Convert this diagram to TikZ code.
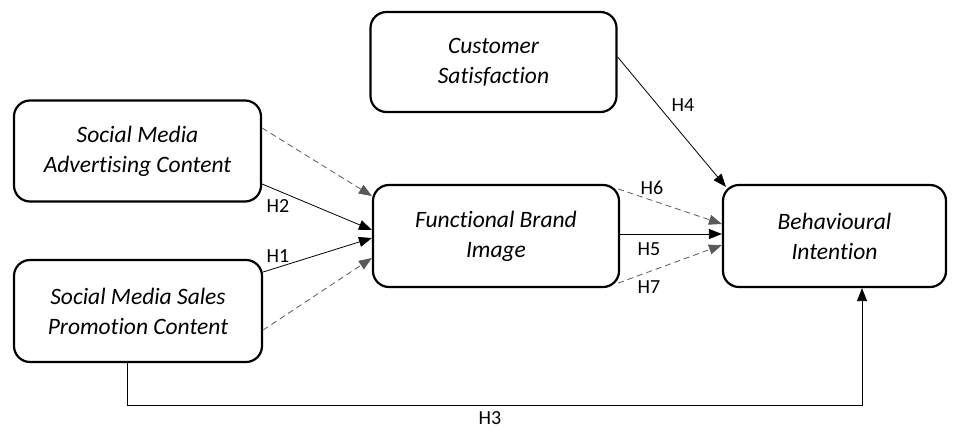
\documentclass[tikz,border=0pt]{standalone}
\usepackage{fontspec}
\setmainfont[Ligatures=NoCommon]{Carlito}
\usetikzlibrary{arrows.meta,calc}
\begin{document}
\begin{tikzpicture}[x=1pt,y=-1pt,
  box/.style={draw, line width=2.2pt, rounded corners=16pt, align=center, inner sep=0pt,
    font=\fontsize{23.5}{30}\selectfont\itshape},
  arr/.style={draw, line width=0.8pt, -{Triangle[length=13pt,width=10pt]}},
  darr/.style={arr, dash pattern=on 6pt off 4pt, draw=black!65},
  lbl/.style={font=\fontsize{20}{22}\selectfont, inner sep=0pt}]
\useasboundingbox (0,0) rectangle (958,429);
\node[box, minimum width=247pt, minimum height=101pt] (ad) at (137.5,151) {Social Media\\Advertising Content};
\node[box, minimum width=248pt, minimum height=102pt] (sp) at (138,311) {Social Media Sales\\Promotion Content};
\node[box, minimum width=246pt, minimum height=100pt] (cs) at (493.5,62) {Customer\\Satisfaction};
\node[box, minimum width=246pt, minimum height=102pt] (fb) at (496,236) {Functional Brand\\Image};
\node[box, minimum width=223pt, minimum height=102pt] (bi) at (834.5,236) {Behavioural\\Intention};

\coordinate (d1) at (ad.east |- 0,128);
\coordinate (d2) at (fb.west |- 0,196);
\draw[darr] (d1) -- (d2);
\draw[arr] (ad.east |- 0,184) -- (fb.west |- 0,230);
\draw[arr] (sp.east |- 0,272) -- (fb.west |- 0,238);
\draw[darr] (sp.east |- 0,330) -- (fb.west |- 0,258);
\draw[arr] (cs.east |- 0,57) -- ($(bi.north west)+(4,3)$);
\draw[darr] ($(fb.north east)+(-2,5)$) -- (bi.west |- 0,224);
\draw[arr] (fb.east |- 0,234) -- (bi.west |- 0,234);
\draw[darr] ($(fb.south east)+(-2,-5)$) -- (bi.west |- 0,245);
\draw[arr] (sp.south -| 127,0) -- (127,405) -- (862,405) -- (bi.south -| 862,0);

\node[lbl] (h2) at (278,206) {H2};
\node[lbl] (h1) at (278,256) {H1};
\node[lbl] (h6) at (652,188) {H6};
\node[lbl] (h5) at (649,249) {H5};
\node[lbl] (h7) at (649,287) {H7};
\node[lbl] (h4) at (683,105) {H4};
\node[lbl] (h3) at (490,418) {H3};
\end{tikzpicture}
\end{document}
